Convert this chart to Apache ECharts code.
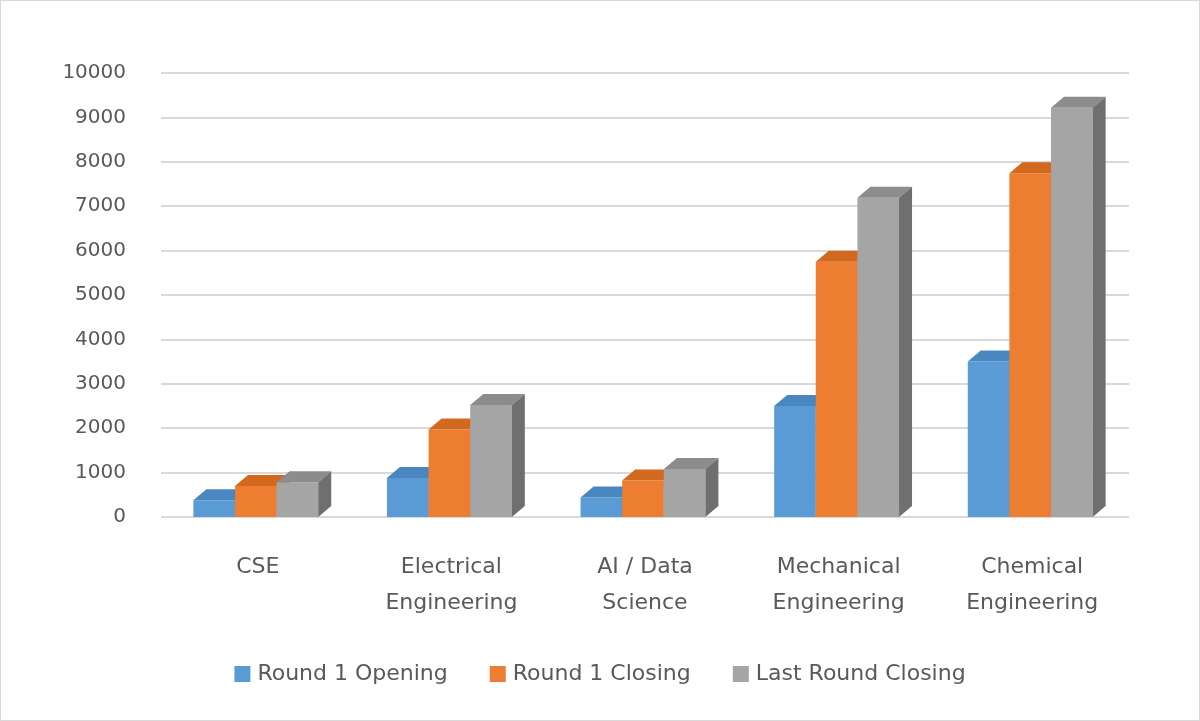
<!DOCTYPE html>
<html>
<head>
<meta charset="utf-8">
<script src="https://cdn.jsdelivr.net/npm/echarts@6/dist/echarts.min.js"></script>
<style>
html,body{margin:0;padding:0;background:#fff;}
#chart{width:1198px;height:719px;border:1px solid #d9d9d9;}
</style>
</head>
<body>
<div id="chart"></div>
<script>
var categories = ['CSE', 'Electrical\nEngineering', 'AI / Data\nScience', 'Mechanical\nEngineering', 'Chemical\nEngineering'];
var round1Opening = [380, 880, 440, 2500, 3500];
var round1Closing = [700, 1970, 820, 5750, 7740];
var lastRoundClosing = [780, 2520, 1080, 7190, 9220];
var yTicks = { min: 0, max: 10000, interval: 1000 };

var myChart = echarts.init(document.getElementById('chart'));

// 3D-ish bar: front face, top face, side face
function make3dBar(offsetIndex, front, top, side) {
    return function (params, api) {
        var idx = api.value(0);
        var p = api.coord([idx, api.value(1)]);
        var b = api.coord([idx, 0]);
        var band = api.size([1, 0])[0];
        var w = band * 0.215;
        var dx = 13, dy = 11;
        var x0 = p[0] + (offsetIndex - 1.5) * w - 2;
        var x1 = x0 + w;
        var yt = p[1], yb = b[1];
        return {
            type: 'group',
            children: [
                { type: 'rect', shape: { x: x0, y: yt, width: w, height: yb - yt }, style: { fill: front } },
                { type: 'polygon', shape: { points: [[x0, yt], [x0 + dx, yt - dy], [x1 + dx, yt - dy], [x1, yt]] }, style: { fill: top } },
                { type: 'polygon', shape: { points: [[x1, yt], [x1 + dx, yt - dy], [x1 + dx, yb - dy], [x1, yb]] }, style: { fill: side } }
            ]
        };
    };
}

function seriesData(arr) {
    return arr.map(function (v, i) { return [i, v]; });
}

var option = {
    animation: false,
    grid: { left: 160, right: 70, top: 72, bottom: 203 },
    legend: {
        bottom: 30,
        left: 'center',
        icon: 'rect',
        itemWidth: 16,
        itemHeight: 16,
        itemGap: 42,
        textStyle: { fontSize: 22, color: '#595959', fontFamily: 'DejaVu Sans', padding: [0, 0, 0, 2] }
    },
    xAxis: {
        type: 'category',
        data: categories,
        axisLine: { show: false },
        axisTick: { show: false },
        axisLabel: { fontSize: 22, color: '#595959', lineHeight: 36, margin: 32, fontFamily: 'DejaVu Sans' }
    },
    yAxis: {
        type: 'value',
        min: yTicks.min,
        max: yTicks.max,
        interval: yTicks.interval,
        axisLine: { show: false },
        axisTick: { show: false },
        axisLabel: {
            fontSize: 20, color: '#595959', margin: 35, fontFamily: 'DejaVu Sans',
            formatter: function (v) { return String(v); }
        },
        splitLine: { lineStyle: { color: '#d9d9d9', width: 2 } }
    },
    series: [
        {
            name: 'Round 1 Opening', type: 'custom', itemStyle: { color: '#5b9bd5' },
            renderItem: make3dBar(0, '#5b9bd5', '#4a86c0', '#3f72a6'),
            encode: { x: 0, y: 1 }, data: seriesData(round1Opening)
        },
        {
            name: 'Round 1 Closing', type: 'custom', itemStyle: { color: '#ed7d31' },
            renderItem: make3dBar(1, '#ed7d31', '#d2691f', '#b85a1a'),
            encode: { x: 0, y: 1 }, data: seriesData(round1Closing)
        },
        {
            name: 'Last Round Closing', type: 'custom', itemStyle: { color: '#a5a5a5' },
            renderItem: make3dBar(2, '#a5a5a5', '#8c8c8c', '#6f6f6f'),
            encode: { x: 0, y: 1 }, data: seriesData(lastRoundClosing)
        }
    ]
};
myChart.setOption(option);
window.onresize = myChart.resize;
</script>
</body>
</html>
